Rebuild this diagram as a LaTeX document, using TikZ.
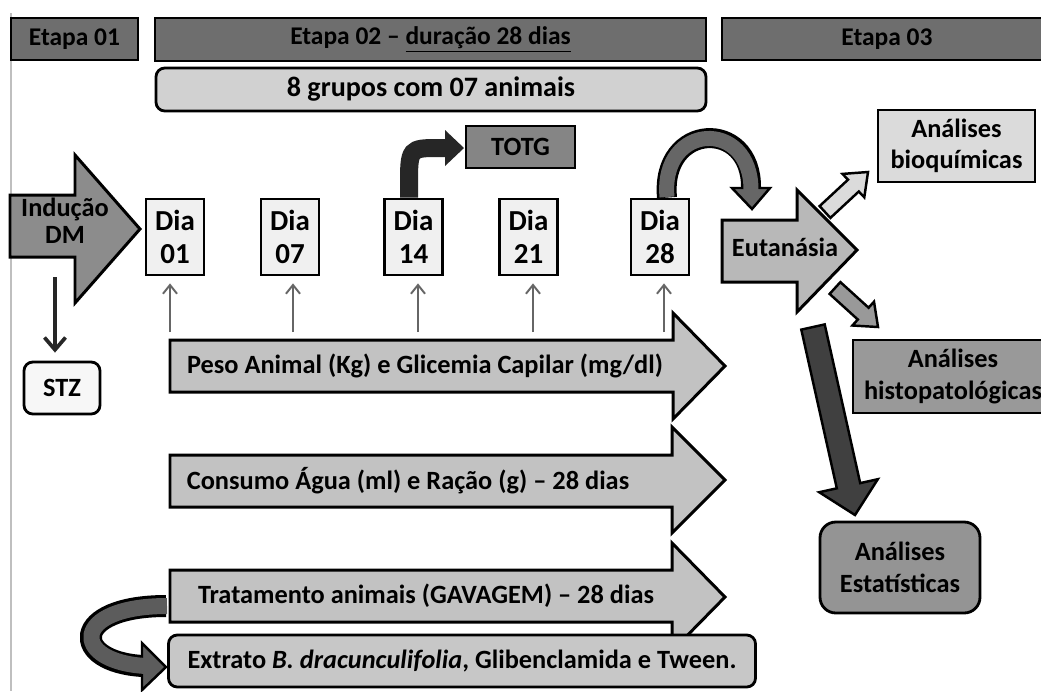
\documentclass[tikz,border=0pt]{standalone}
\usepackage{fontspec}
\setmainfont{Carlito}
\usetikzlibrary{arrows.meta}
\definecolor{cEtapa}{gray}{0.43}
\definecolor{cGrupos}{gray}{0.82}
\definecolor{cTotg}{gray}{0.52}
\definecolor{cDia}{gray}{0.94}
\definecolor{cInd}{gray}{0.55}
\definecolor{cBar}{gray}{0.76}
\definecolor{cExt}{gray}{0.78}
\definecolor{cStz}{gray}{0.97}
\definecolor{cEut}{gray}{0.72}
\definecolor{cBio}{gray}{0.86}
\definecolor{cHis}{gray}{0.60}
\definecolor{cEst}{gray}{0.58}
\definecolor{cBig}{gray}{0.25}
\definecolor{cCurve}{gray}{0.40}
\definecolor{cTotgArrow}{gray}{0.15}
\definecolor{cRibbon}{gray}{0.36}
\definecolor{cThin}{gray}{0.40}
\definecolor{cEdge}{gray}{0.75}
\begin{document}
\begin{tikzpicture}[x=0.02cm,y=-0.02cm,
  lbl/.style={font=\bfseries\fontsize{15}{18}\selectfont, align=center, inner sep=0pt},
  sz/.style 2 args={minimum width=#1*0.02cm, minimum height=#2*0.02cm},
  box/.style={draw=black, line width=1.6pt, inner sep=0pt, align=center, font=\bfseries\fontsize{15}{18}\selectfont},
  diabox/.style={box, fill=cDia, sz={58}{76}, font=\bfseries\fontsize{16.5}{18.5}\selectfont},
  blockarrow/.style={draw=black, line width=1.7pt, line join=miter},
  thinarrow/.style={draw=cThin, line width=1.1pt, -{Straight Barb[length=5pt,width=8pt,line width=1.1pt]}},
  stzarrow/.style={draw=black!85, line width=2.1pt, -{Straight Barb[length=7pt,width=12pt,line width=2.1pt]}}
]
\useasboundingbox (0,0) rectangle (1041,691);
\fill[white] (0,0) rectangle (1041,691);
\draw[cEdge, line width=0.6pt] (11,13) -- (11,691);

% top stage bars
\node[box, fill=cEtapa, sz={127}{42}, font=\bfseries\fontsize{14.5}{17}\selectfont] (etapa1) at (74.5,39) {Etapa 01};
\node[box, fill=cEtapa, sz={551}{43}, font=\bfseries\fontsize{14.5}{17}\selectfont] (etapa2) at (430.5,39.5) {Etapa 02 -- \underline{duração 28 dias}};
\node[box, fill=cEtapa, sz={330}{42}, font=\bfseries\fontsize{14.5}{17}\selectfont] (etapa3) at (887,39) {Etapa 03};
\node[box, fill=cGrupos, sz={550}{43}, rounded corners=5pt, font=\bfseries\fontsize{16}{18}\selectfont] (grupos) at (431,89.5) {8 grupos com 07 animais};

% Inducao DM block arrow
\draw[blockarrow, fill=cInd] (10,195) -- (75,195) -- (75,155) -- (140,229) -- (75,303) -- (75,257) -- (10,257) -- cycle;
\node[lbl, font=\bfseries\fontsize{15}{15.5}\selectfont] (inducao) at (65,221) {Indução\\DM};

% STZ
\node[box, fill=cStz, sz={76}{52}, rounded corners=5pt] (stz) at (62,388) {STZ};
\coordinate (stzfrom) at (55,277);
\draw[stzarrow, shorten >=8*0.02cm] (stzfrom) -- (stzfrom |- stz.north);

% TOTG
\node[box, fill=cTotg, sz={109}{42}] (totg) at (520.5,147) {TOTG};

% Dia boxes
\node[diabox] (d01) at (175,237) {Dia\\01};
\node[diabox] (d07) at (290,237) {Dia\\07};
\node[diabox] (d14) at (413.5,237) {Dia\\14};
\node[diabox] (d21) at (528.5,237) {Dia\\21};
\node[diabox] (d28) at (660,237) {Dia\\28};

% TOTG bent arrow
\coordinate (a14) at (409,186);
\draw[cTotgArrow, line width=18*0.02cm] (a14 |- d14.north) -- (a14) .. controls (409,148) .. (440,148) -- (447,148);
\fill[cTotgArrow] (445,130) -- (464,148) -- (445,166) -- cycle;

% thin arrows
\foreach \x/\d in {170/d01, 293/d07, 418/d14, 533/d21, 664/d28}{
  \coordinate (t\d) at (\x,332);
  \draw[thinarrow, shorten >=7*0.02cm] (t\d) -- (t\d |- \d.south);
}

% block bars
\draw[blockarrow, fill=cBar] (170,340) -- (673,340) -- (673,313) -- (725,366) -- (673,419) -- (673,392) -- (170,392) -- cycle;
\node[lbl] (peso) at (425,366) {Peso Animal (Kg) e Glicemia Capilar (mg/dl)};
\draw[blockarrow, fill=cBar] (170,455) -- (672,455) -- (672,427) -- (725,480) -- (672,533) -- (672,507) -- (170,507) -- cycle;
\node[lbl] (consumo) at (408,481) {Consumo Água (ml) e Ração (g) -- 28 dias};

% ribbon arrow (Tratamento -> Extrato)
\draw[black, line width=22*0.02cm] (166,606) .. controls (70,606) and (70,662) .. (143,666);
\draw[black, fill=cRibbon, line width=1.4pt, line join=miter] (142,643) -- (166,667) -- (142,690) -- cycle;
\draw[cRibbon, line width=16*0.02cm] (167,606) .. controls (70,606) and (70,662) .. (146,666);

\draw[blockarrow, fill=cBar] (170,570) -- (672,570) -- (672,543) -- (725,597) -- (672,651) -- (672,622) -- (170,622) -- cycle;
\node[lbl] (trat) at (426,596) {Tratamento animais (GAVAGEM) -- 28 dias};
\node[box, fill=cExt, sz={587}{52}, rounded corners=5pt] (extrato) at (462,661) {Extrato \textit{B. dracunculifolia}, Glibenclamida e Tween.};

% Dia 28 curved arrow
\coordinate (a28) at (667,0);
\draw[black, line width=20*0.02cm] (a28 |- d28.north) .. controls (660,122) and (752,118) .. (751,188);
\draw[black, fill=cCurve, line width=1.4pt, line join=miter] (732,188) -- (770,188) -- (752,209) -- cycle;
\draw[cCurve, line width=15*0.02cm] (667,197) .. controls (660,122) and (752,118) .. (751,191);

% small arrows from Eutanasia
\draw[blockarrow, line width=1.4pt, fill=cBio] (819.6,206.1) -- (848,179.7) -- (842.5,173.9) -- (868,172) -- (864.3,197.3) -- (858.8,191.5) -- (830.4,217.9) -- cycle;
\draw[blockarrow, line width=1.4pt, fill=cHis] (840.4,282.1) -- (868.6,307.7) -- (874,301.7) -- (878,327) -- (852.4,325.5) -- (857.8,319.5) -- (829.6,293.9) -- cycle;

% Eutanasia block arrow
\draw[blockarrow, fill=cEut] (722,220) -- (797,220) -- (797,190) -- (857,250) -- (797,312) -- (797,282) -- (722,282) -- cycle;
\node[lbl] (eut) at (785,247) {Eutanásia};

% analysis boxes
\node[box, fill=cBio, sz={157}{72}] (bio) at (956.5,146) {Análises\\bioquímicas};
\node[box, fill=cHis, sz={200}{73}] (his) at (953,376.5) {Análises\\histopatológicas};
\node[box, fill=cEst, sz={160}{91}, rounded corners=9pt] (est) at (900,567.5) {Análises\\Estatísticas};

% big dark arrow to Estatisticas
\draw[blockarrow, line width=1.4pt, fill=cBig] (801.3,329.6) -- (824.7,324.4) -- (860.2,483.1) -- (877.8,479.2) -- (855,515) -- (819.2,492.2) -- (836.8,488.3) -- cycle;
\end{tikzpicture}
\end{document}
